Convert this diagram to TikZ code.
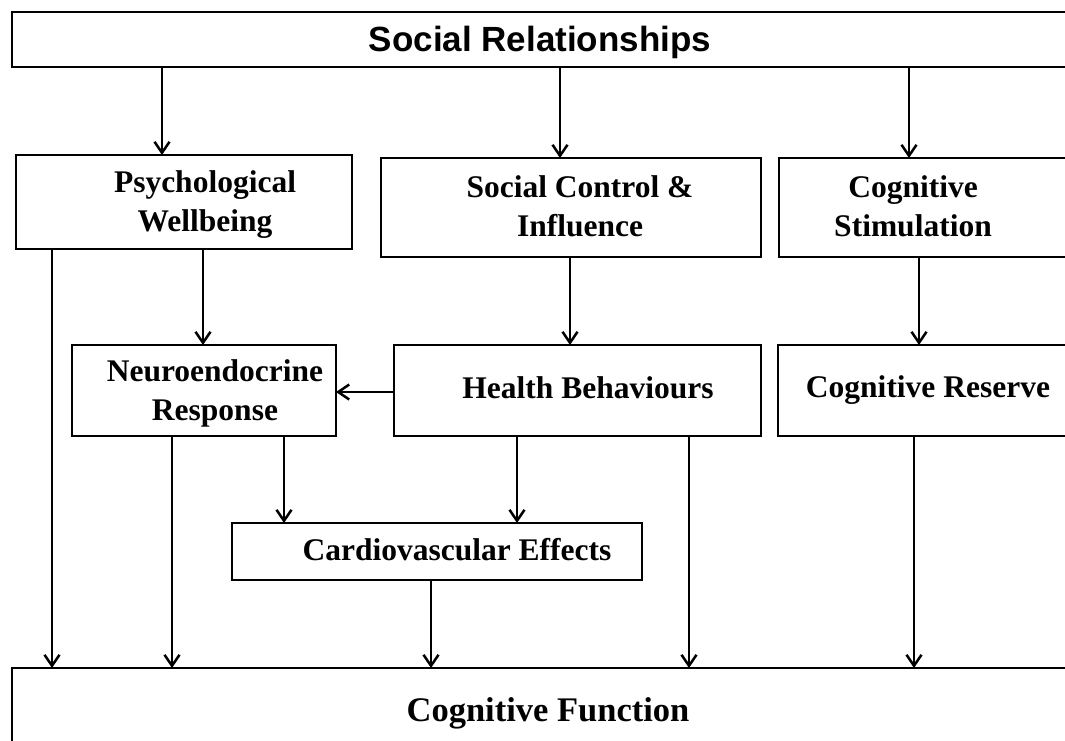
\documentclass[tikz,border=0pt]{standalone}
\usepackage{fontspec}
\setmainfont{Liberation Serif}
\setsansfont{Liberation Sans}
\usetikzlibrary{arrows.meta}
\begin{document}
\begin{tikzpicture}[x=1pt,y=-1pt,
  box/.style={draw, line width=2.6pt, inner sep=0pt, outer sep=0pt, anchor=north west},
  lbl/.style={align=center, font=\bfseries\fontsize{31.5}{39}\selectfont},
  arr/.style={line width=2.5pt, -{Straight Barb[length=11pt,width=15pt,line width=2.5pt]}}]
\useasboundingbox (0,0) rectangle (1065,740);
\clip (0,0) rectangle (1065,740);
\fill[white] (0,0) rectangle (1065,740);

% boxes
\node[box, minimum width=1068pt, minimum height=55pt] (sr) at (12,12) {};
\node[box, minimum width=336pt, minimum height=94pt] (pw) at (16,155) {};
\node[box, minimum width=380pt, minimum height=99pt] (sc) at (381,158) {};
\node[box, minimum width=301pt, minimum height=99pt] (cs) at (779,158) {};
\node[box, minimum width=264pt, minimum height=91pt] (ne) at (72,345) {};
\node[box, minimum width=367pt, minimum height=91pt] (hb) at (394,345) {};
\node[box, minimum width=302pt, minimum height=91pt] (cr) at (778,345) {};
\node[box, minimum width=410pt, minimum height=57pt] (cv) at (232,523) {};
\node[box, minimum width=1068pt, minimum height=92pt] (cf) at (12,668) {};

% labels
\node[font=\sffamily\bfseries\fontsize{35}{42}\selectfont] (srt) at (540,42) {Social Relationships};
\node[lbl] (pwt) at (205,205) {Psychological\\Wellbeing};
\node[lbl] (sct) at (580,206) {Social Control \&\\Influence};
\node[lbl] (cst) at (913,206) {Cognitive\\Stimulation};
\node[lbl] (net) at (215,393) {Neuroendocrine\\Response};
\node[lbl] (hbt) at (588,388) {Health Behaviours};
\node[lbl] (crt) at (928,390) {Cognitive Reserve};
\node[lbl] (cvt) at (457,550) {Cardiovascular Effects};
\node[font=\bfseries\fontsize{34.5}{42}\selectfont] (cft) at (548,713) {Cognitive Function};

% connector columns
\coordinate (xa) at (162,0);
\coordinate (xb) at (560,0);
\coordinate (xc) at (909,0);
\coordinate (xd) at (203,0);
\coordinate (xe) at (570,0);
\coordinate (xf) at (919,0);
\coordinate (xg) at (284,0);
\coordinate (xh) at (517,0);
\coordinate (xi) at (52,0);
\coordinate (xj) at (172,0);
\coordinate (xk) at (431,0);
\coordinate (xl) at (689,0);
\coordinate (xm) at (914,0);
\coordinate (ya) at (0,392);

% connectors
\draw[arr] (sr.south -| xa) -- (pw.north -| xa);
\draw[arr] (sr.south -| xb) -- (sc.north -| xb);
\draw[arr] (sr.south -| xc) -- (cs.north -| xc);
\draw[arr] (pw.south -| xd) -- (ne.north -| xd);
\draw[arr] (sc.south -| xe) -- (hb.north -| xe);
\draw[arr] (cs.south -| xf) -- (cr.north -| xf);
\draw[arr] (hb.west |- ya) -- (ne.east |- ya);
\draw[arr] (ne.south -| xg) -- (cv.north -| xg);
\draw[arr] (hb.south -| xh) -- (cv.north -| xh);
\draw[arr] (pw.south -| xi) -- (cf.north -| xi);
\draw[arr] (ne.south -| xj) -- (cf.north -| xj);
\draw[arr] (cv.south -| xk) -- (cf.north -| xk);
\draw[arr] (hb.south -| xl) -- (cf.north -| xl);
\draw[arr] (cr.south -| xm) -- (cf.north -| xm);
\end{tikzpicture}
\end{document}
